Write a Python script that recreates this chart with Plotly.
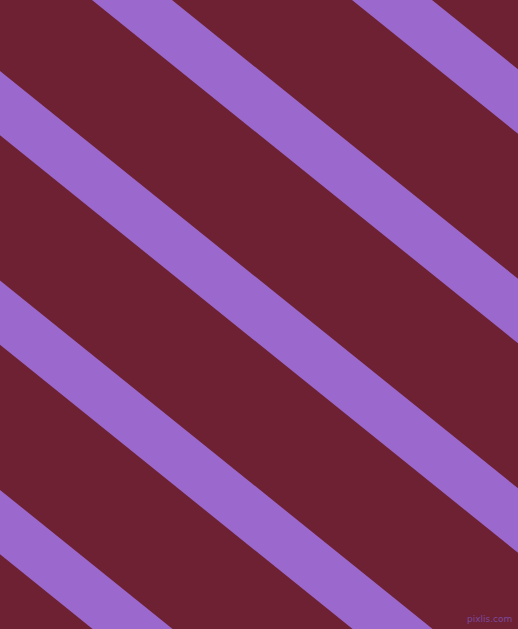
"""Diagonal stripe pattern: dark red field crossed by lavender bands."""

import plotly.graph_objects as go

# canvas in pixels
CANVAS_W = 518
CANVAS_H = 629

# x position of each band's left edge along the top border
band_starts = [-688, -428, -168, 92, 352]
band_width = 80          # horizontal width of a band
band_drop = 209.5 / 260  # vertical drop per horizontal pixel

background = "#6e2133"
band_colour = "#9b68cd"

fig = go.Figure()

run = CANVAS_H / band_drop
for start in band_starts:
    xs = [start, start + band_width, start + band_width + run, start + run, start]
    ys = [0, 0, CANVAS_H, CANVAS_H, 0]
    fig.add_trace(
        go.Scatter(
            x=xs,
            y=ys,
            mode="lines",
            fill="toself",
            fillcolor=band_colour,
            line=dict(width=0, color=band_colour),
            hoverinfo="skip",
            showlegend=False,
        )
    )

fig.add_annotation(
    x=489,
    y=619,
    text="pixlis.com",
    showarrow=False,
    font=dict(family="DejaVu Sans", size=9, color="#7a4a9c"),
)

fig.update_layout(
    width=CANVAS_W,
    height=CANVAS_H,
    margin=dict(l=0, r=0, t=0, b=0),
    paper_bgcolor=background,
    plot_bgcolor=background,
    xaxis=dict(range=[0, CANVAS_W], visible=False, fixedrange=True),
    yaxis=dict(range=[CANVAS_H, 0], visible=False, fixedrange=True),
)

fig.write_html(
    "out.html",
    config={"displayModeBar": False},
    post_script="document.body.style.margin='0';",
)
